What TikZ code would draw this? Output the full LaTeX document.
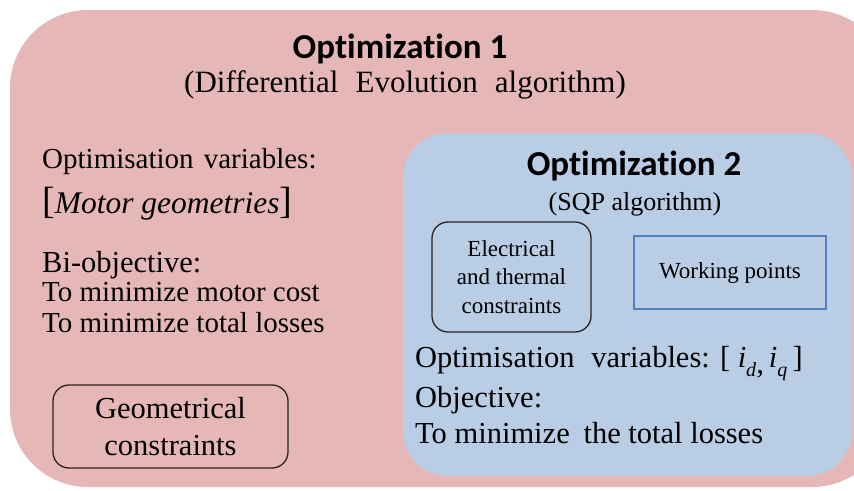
\documentclass[tikz,border=0pt]{standalone}
\usepackage{fontspec}
\setmainfont{Liberation Serif}
\newfontfamily\calib[Ligatures=NoCommon]{Carlito}
\definecolor{pinkbg}{HTML}{E5B8B7}
\definecolor{bluebg}{HTML}{B9CDE5}
\definecolor{wpedge}{HTML}{4F81BD}
\definecolor{boxedge}{HTML}{2B2222}
\newcommand{\subidx}[1]{\raisebox{-0.3em}{\fontsize{20}{20}\selectfont\textit{#1}}}
\tikzset{
  title/.style={font=\calib\bfseries\fontsize{35}{40}\selectfont, anchor=base, inner sep=0pt},
  sub/.style={font=\fontsize{31}{36}\selectfont, anchor=base, inner sep=0pt},
  txt/.style={font=\fontsize{29}{33}\selectfont, anchor=base west, inner sep=0pt},
  btxt/.style={font=\fontsize{30.5}{35}\selectfont, anchor=base west, inner sep=0pt},
  rbox/.style={draw=boxedge, line width=1.3pt, rounded corners=16pt, align=center},
}
\begin{document}
\begin{tikzpicture}[x=1pt,y=-1pt]
\useasboundingbox (0,0) rectangle (854,490);
\fill[white] (0,0) rectangle (854,490);
% outer boxes
\fill[pinkbg, rounded corners=78pt] (10,10) rectangle (890,487);
\fill[bluebg, rounded corners=45pt] (403,133) rectangle (852,476);
% Optimization 1
\node[title] (t1) at (400,58) {Optimization 1};
\node[sub] (s1) at (405,92) {(Differential\hspace{0.3em} Evolution\hspace{0.3em} algorithm)};
\node[txt] (ov1) at (42,168) {Optimisation\hspace{0.1em} variables:};
\node[txt, font=\fontsize{31.5}{35}\selectfont] (mg) at (42,213) {{\fontsize{38}{38}\selectfont[}\textit{Motor geometries}{\fontsize{38}{38}\selectfont]}};
\node[txt, font=\fontsize{30.5}{35}\selectfont] (bo) at (42,272) {Bi-objective:};
\node[txt] (mc) at (42,301) {To minimize motor cost};
\node[txt] (tl) at (42,332) {To minimize total losses};
\node[rbox, minimum width=235pt, minimum height=83pt, font=\fontsize{30.5}{37}\selectfont] (geo) at (170.5,426.5) {Geometrical\\constraints};
% Optimization 2
\node[title] (t2) at (634,175) {Optimization 2};
\node[sub, font=\fontsize{26}{30}\selectfont] (s2) at (635,210) {(SQP algorithm)};
\node[rbox, minimum width=159pt, minimum height=110pt, font=\fontsize{23}{28.5}\selectfont] (elec) at (511.5,277) {Electrical\\and thermal\\constraints};
\node[draw=wpedge, line width=1.2pt, minimum width=192pt, minimum height=73pt, font=\fontsize{23}{27}\selectfont] (wp) at (730,272.5) {Working points};
\node[btxt] (ov2) at (415,367) {Optimisation\hspace{0.3em} variables: [ \textit{i}\subidx{d}\raisebox{-0.2em}{,}\,\textit{i}\subidx{q}\,]};
\node[btxt] (obj) at (415,407) {Objective:};
\node[btxt] (ttl) at (415,443) {To minimize\hspace{0.2em} the total losses};
\end{tikzpicture}
\end{document}
